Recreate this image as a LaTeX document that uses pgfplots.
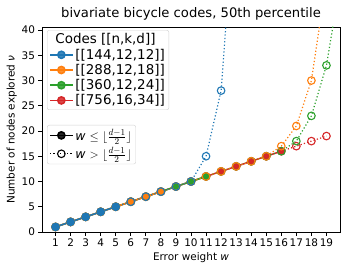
\documentclass[border=0pt]{standalone}
\usepackage{fontspec}
\setmainfont{DejaVu Sans}
\usepackage{pgfplots}
\pgfplotsset{compat=1.18}
\definecolor{cb}{HTML}{1F77B4}
\definecolor{co}{HTML}{FF7F0E}
\definecolor{cg}{HTML}{2CA02C}
\definecolor{cr}{HTML}{D62728}
\pgfplotsset{
  solidp/.style={line width=1.5bp, solid, mark=*, mark size=3.6bp, mark options={solid}},
  dotp/.style={line width=1.2bp, dash pattern=on 1.2bp off 2.2bp, mark=o, mark size=3.8bp, mark options={solid, line width=1.1bp, fill=none}},
  myleg/.style={legend style={draw=black!18, rounded corners=2bp, fill=white, fill opacity=0.85, text opacity=1,
     font=\fontsize{13.5}{15}\selectfont, inner xsep=2bp, inner ysep=1.5bp, row sep=-0.5bp, cells={anchor=west}},
     legend image code/.code={\draw[mark repeat=2,mark phase=2] plot coordinates {(0cm,0cm) (0.4cm,0cm) (0.8cm,0cm)};}},
  common/.style={scale only axis, width=298bp, height=205bp, xmin=0.1, xmax=19.9, ymin=0, ymax=40.6, at={(0,0)}, anchor=south west},
}
\begin{document}
\begin{tikzpicture}
\begin{axis}[common, name=ax, myleg,
  xtick={1,...,19}, ytick={0,5,...,40},
  tick align=outside, tick pos=left, major tick length=3.5bp,
  tick style={black, line width=0.8bp}, axis line style={line width=0.8bp},
  /pgf/number format/assume math mode=true,
  ticklabel style={font=\fontsize{10.5}{12}\selectfont},
  xticklabel style={inner xsep=0pt},
  label style={font=\fontsize{10.5}{12}\selectfont},
  xlabel={Error weight \textit{w}}, ylabel={Number of nodes explored \textit{ν}},
  xlabel style={yshift=1bp}, ylabel style={yshift=-2bp},
  title={bivariate bicycle codes, 50th percentile},
  title style={font=\fontsize{13.2}{15}\selectfont, yshift=-3bp},
  legend style={at={(0.017,0.985)}, anchor=north west},
  clip=true]
\addlegendimage{empty legend}
\addlegendentry{\hspace{-20bp}Codes [[n,k,d]]}
\addlegendimage{solidp, cb}\addlegendentry{[[144,12,12]]}
\addlegendimage{solidp, co}\addlegendentry{[[288,12,18]]}
\addlegendimage{solidp, cg}\addlegendentry{[[360,12,24]]}
\addlegendimage{solidp, cr}\addlegendentry{[[756,16,34]]}
% red (drawn first)
\addplot[solidp, cr, forget plot] coordinates {(1,1)(2,2)(3,3)(4,4)(5,5)(6,6)(7,7)(8,8)(9,9)(10,10)(11,11)(12,12)(13,13)(14,14)(15,15)(16,16)};
\addplot[dotp, cr, forget plot, mark indices={2,3,4}] coordinates {(16,16)(17,17)(18,18)(19,19)};
% green
\addplot[solidp, cg, forget plot] coordinates {(1,1)(2,2)(3,3)(4,4)(5,5)(6,6)(7,7)(8,8)(9,9)(10,10)(11,11)};
\addplot[dotp, cg, forget plot, mark indices={2,3,4,5,6,7,8,9,10}] coordinates {(11,11)(12,12)(13,13)(14,14)(15,15)(16,16)(17,18)(18,23)(19,33)(20,51)};
% orange
\addplot[solidp, co, forget plot] coordinates {(1,1)(2,2)(3,3)(4,4)(5,5)(6,6)(7,7)(8,8)};
\addplot[dotp, co, forget plot, mark indices={2,3,4,5,6,7,8,9,10,11,12}] coordinates {(8,8)(9,9)(10,10)(11,11)(12,12)(13,13)(14,14)(15,15)(16,17)(17,21)(18,30)(19,50)};
% blue (drawn last)
\addplot[solidp, cb, forget plot] coordinates {(1,1)(2,2)(3,3)(4,4)(5,5)};
\addplot[dotp, cb, forget plot, mark indices={2,3,4,5,6,7,8,9}] coordinates {(5,5)(6,6)(7,7)(8,8)(9,9)(10,10)(11,15)(12,28)(13,69)};
\end{axis}
\begin{axis}[common, hide axis, myleg,
  legend style={at={(0.017,0.522)}, anchor=north west, row sep=2bp, inner ysep=2bp, font=\fontsize{12.5}{14}\selectfont}]
\addlegendimage{solidp, black}
\addlegendentry{\textit{w} $\leq\lfloor\frac{d-1}{2}\rfloor$}
\addlegendimage{dotp, black}
\addlegendentry{\textit{w} $>\lfloor\frac{d-1}{2}\rfloor$}
\end{axis}
\pgfresetboundingbox
\path[use as bounding box] (-42bp,-39bp) rectangle (306bp,232bp);
\end{tikzpicture}
\end{document}
